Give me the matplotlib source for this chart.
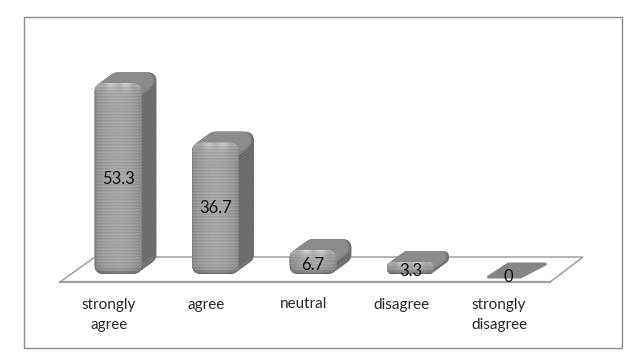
"""Pseudo-3D rounded bar chart of survey responses. Saves out.png."""

import matplotlib

matplotlib.use("Agg")

import matplotlib.pyplot as plt
import numpy as np
from matplotlib.patches import FancyBboxPatch, Polygon, Rectangle

categories = ["strongly\nagree", "agree", "neutral", "disagree", "strongly\ndisagree"]
values = [53.3, 36.7, 6.7, 3.3, 0]
value_labels = ["53.3", "36.7", "6.7", "3.3", "0"]

W, H = 639, 357
BASE_PX, PX_PER_UNIT = 274.0, 3.58
DX, DY = 15, 11
BAR_W = 47
YMAX = 60

plt.rcParams["font.family"] = ["Lato", "DejaVu Sans"]

fig = plt.figure(figsize=(W / 100, H / 100), dpi=100, facecolor="white")

# pixel overlay for the frame, floor and 3D faces
px = fig.add_axes([0, 0, 1, 1])
px.set_xlim(0, W)
px.set_ylim(H, 0)
px.axis("off")

# category axes: index 0..4 lands on the bar centres
left, right = 69.25, 556.75
ax = fig.add_axes(
    [left / W, (H - BASE_PX) / H, (right - left) / W, YMAX * PX_PER_UNIT / H],
    zorder=3,
)
ax.set_xlim(-0.5, 4.5)
ax.set_ylim(0, YMAX)
ax.axis("off")
ax.patch.set_alpha(0)


def to_px(x, y):
    dx, dy = ax.transData.transform((x, y))
    return dx, H - dy


def rounded(x0, y0, w, h, r, color, z):
    r = min(r, w / 2 - 0.1, h / 2 - 0.1)
    patch = FancyBboxPatch(
        (x0 + r, y0 + r), w - 2 * r, h - 2 * r,
        boxstyle=f"round,pad={r},rounding_size={r}",
        facecolor=color, edgecolor="none", zorder=z,
    )
    px.add_patch(patch)
    return patch


def shade_front(x0, y0, w, h, clip):
    """Striped shading for a bar's front face, light along the top edge."""
    rows, cols = max(int(h), 2), max(int(w), 2)
    u = np.linspace(0, 1, cols)
    across = 134 + 36 * np.sin(np.pi * u) ** 0.45
    img = np.tile(across, (rows, 1))
    img[1::3] -= 11
    img[2::3] -= 4
    yy = np.arange(rows)[:, None]
    img = img + 50 * np.exp(-yy / 4.5) * (0.7 + 0.3 * np.cos(u * 6 * np.pi))
    img = img - 55 * np.exp(-(rows - 1 - yy) / 3.0)
    im = px.imshow(
        np.clip(img, 0, 255),
        cmap="gray",
        vmin=0,
        vmax=255,
        extent=(x0, x0 + w, y0 + h, y0),
        aspect="auto",
        interpolation="nearest",
        zorder=5,
    )
    im.set_clip_path(clip)


def draw_bar(i, value):
    cx, top = to_px(i, value)
    _, base = to_px(i, 0)
    x0 = cx - BAR_W / 2
    if value == 0:
        px.add_patch(
            Polygon(
                [(x0 + 4, base + 3), (x0 + 36, base + 3), (x0 + BAR_W + DX - 1, base - 10),
                 (x0 + DX + 9, base - 10)],
                closed=True, facecolor="#858585", edgecolor="#858585", lw=2.2, joinstyle="round", zorder=3,
            )
        )
        return
    h = base - top
    r = min(9, h / 2.2)
    # extrude the rounded front backwards: side colour first, then the top face
    for t in np.linspace(1, 0, 24):
        rounded(x0 + DX * t, top - DY * t, BAR_W, h, r, "#747474", 3)
    for t in np.linspace(1, 0, 24):
        rounded(x0 + DX * t, top - DY * t, BAR_W - 3, min(2 * r, h), r, "#8b8b8b", 3.5)
    for y in np.arange(top + r + 2, base - r, 3):
        px.plot([x0 + BAR_W, x0 + BAR_W + DX - 1], [y, y - DY + 1], color="black",
                alpha=0.1, lw=1, zorder=4, solid_capstyle="butt")
    clip = rounded(x0, top, BAR_W, h, r, "#a0a0a0", 4.5)
    shade_front(x0, top, BAR_W, h, clip)


# outer chart frame
px.add_patch(Rectangle((23.5, 16.5), 598, 331, facecolor="white", edgecolor="#8c8c8c", lw=1, zorder=1))

# floor
px.add_patch(
    Polygon([(60, 282), (95, 257), (583, 257), (550, 282)], closed=True, facecolor="white",
            edgecolor="#a0a0a0", lw=1.1, zorder=2)
)
px.plot([60, 550], [282, 282], color="#a0a0a0", lw=1.6, zorder=2)

for i, v in enumerate(values):
    draw_bar(i, v)

for i, (v, lab) in enumerate(zip(values, value_labels)):
    # short bars have their label pushed down towards the base
    y = v / 2 if v > 7 else v / 2 - 0.8
    ax.text(i, y, lab, ha="center", va="center", fontsize=12, color="#111111", clip_on=False, zorder=6)

for i, lab in enumerate(categories):
    cx, _ = to_px(i, 0)
    px.text(cx - 9, 297.5, lab, ha="center", va="top", fontsize=11, color="#262626",
            linespacing=1.55, zorder=6)

fig.savefig("out.png", dpi=100)
plt.close(fig)
